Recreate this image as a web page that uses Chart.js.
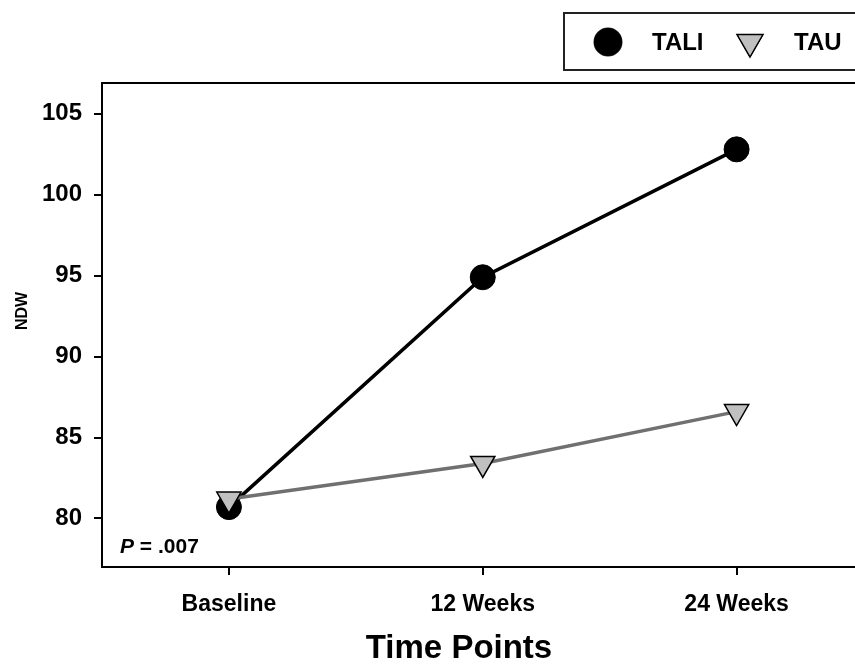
<!DOCTYPE html>
<html>
<head>
<meta charset="utf-8">
<script src="https://cdn.jsdelivr.net/npm/chart.js@4.4.0/dist/chart.umd.min.js"></script>
<style>
  html, body { margin: 0; padding: 0; background: #fff; overflow: hidden; }
  #wrap { width: 880px; height: 665px; }
</style>
</head>
<body>
<div id="wrap"><canvas id="myChart" width="880" height="665"></canvas></div>
<script>
// datos de la grafica
const timePoints = ['Baseline', '12 Weeks', '24 Weeks'];
const taliData = [80.7, 94.9, 102.8];
const tauData = [81.2, 83.4, 86.6];
const yTicks = [80, 85, 90, 95, 100, 105];
const pValue = '= .007';

const FONT = '"Liberation Sans", Arial, sans-serif';

// caja del area, leyenda y textos extra
const extras = {
  id: 'extras',
  afterDraw(chart) {
    const ctx = chart.ctx;
    const a = chart.chartArea;
    ctx.save();
    // linea superior del recuadro
    ctx.strokeStyle = '#000';
    ctx.lineWidth = 2;
    ctx.beginPath();
    ctx.moveTo(a.left, a.top);
    ctx.lineTo(a.right, a.top);
    ctx.stroke();

    // titulo eje x
    ctx.fillStyle = '#000';
    ctx.font = 'bold 33px ' + FONT;
    ctx.textAlign = 'center';
    ctx.textBaseline = 'middle';
    ctx.fillText('Time Points', 459, 649);

    // titulo eje y
    ctx.font = 'bold 16px ' + FONT;
    ctx.translate(23, 311);
    ctx.rotate(-Math.PI / 2);
    ctx.fillText('NDW', 0, 0);
    ctx.restore();

    // P = .007
    ctx.save();
    ctx.fillStyle = '#000';
    ctx.textBaseline = 'alphabetic';
    ctx.font = 'italic bold 21px ' + FONT;
    ctx.fillText('P', 120, 553);
    const w = ctx.measureText('P ').width;
    ctx.font = 'bold 21px ' + FONT;
    ctx.fillText(pValue, 120 + w, 553);
    ctx.restore();

    // leyenda
    ctx.save();
    ctx.strokeStyle = '#222';
    ctx.lineWidth = 2;
    ctx.strokeRect(564, 13, 400, 57);
    const ds = chart.data.datasets;
    const items = [{x: 608, tx: 652}, {x: 750, tx: 794}];
    ds.forEach((d, i) => {
      Chart.helpers.drawPoint(ctx, {
        pointStyle: d.pointStyle,
        radius: d.pointRadius + 1,
        rotation: d.pointRotation || 0,
        borderWidth: d.pointBorderWidth
      }, items[i].x, 42);
      ctx.fillStyle = d.pointBackgroundColor;
      ctx.strokeStyle = d.pointBorderColor;
      ctx.lineWidth = d.pointBorderWidth;
      ctx.fill();
      ctx.stroke();
      ctx.fillStyle = '#000';
      ctx.font = 'bold 24px ' + FONT;
      ctx.textBaseline = 'middle';
      ctx.textAlign = 'left';
      ctx.fillText(d.label, items[i].tx, 43);
    });
    ctx.restore();
  }
};

const ctx = document.getElementById('myChart');

let chartData = {
  type: 'line',
  data: {
    labels: timePoints,
    datasets: [{
      label: 'TALI',
      data: taliData,
      borderColor: '#000',
      borderWidth: 3.5,
      pointStyle: 'circle',
      pointRadius: 12.5,
      pointBackgroundColor: '#000',
      pointBorderColor: '#000',
      pointBorderWidth: 1,
      order: 1
    }, {
      label: 'TAU',
      data: tauData,
      borderColor: '#707070',
      borderWidth: 3.5,
      pointStyle: 'triangle',
      pointRotation: 180,
      pointRadius: 14,
      pointBackgroundColor: '#c0c0c0',
      pointBorderColor: '#000',
      pointBorderWidth: 1.5,
      order: 0
    }]
  },
  options: {
    responsive: false,
    animation: false,
    layout: { padding: { left: 0, right: 16.5, top: 83, bottom: 0 } },
    plugins: {
      legend: { display: false },
      tooltip: { enabled: false }
    },
    scales: {
      x: {
        offset: true,
        afterFit(scale) { scale.height = 98; },
        grid: { display: true, drawOnChartArea: false, drawTicks: true, tickLength: 8, color: '#000', lineWidth: 2, offset: false },
        border: { display: true, color: '#000', width: 2 },
        ticks: { color: '#000', padding: 16, font: { family: FONT, size: 23, weight: 'bold' } }
      },
      y: {
        min: 77,
        max: 106.9,
        afterFit(scale) { scale.width = 102; },
        afterBuildTicks(scale) { scale.ticks = yTicks.map(v => ({ value: v })); },
        grid: { display: true, drawOnChartArea: false, drawTicks: true, tickLength: 8, color: '#000', lineWidth: 2 },
        border: { display: true, color: '#000', width: 2 },
        ticks: { color: '#000', padding: 12, font: { family: FONT, size: 24, weight: 'bold' } }
      }
    }
  },
  plugins: [extras]
};

let myChart = new Chart(ctx, chartData);
</script>
</body>
</html>
